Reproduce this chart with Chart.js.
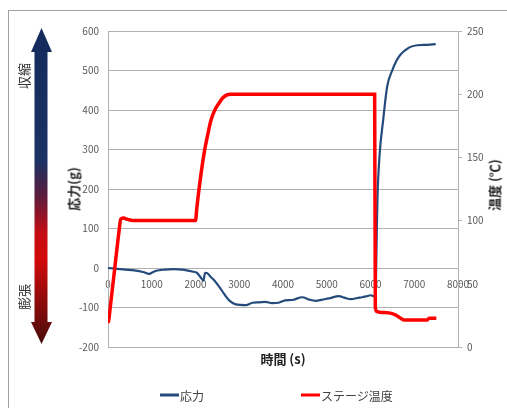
<!DOCTYPE html>
<html>
<head>
<meta charset="utf-8">
<script src="https://cdn.jsdelivr.net/npm/chart.js@4/dist/chart.umd.min.js"></script>
<style>
    html, body { margin: 0; padding: 0; background: #fff; }
    #wrap { position: relative; width: 507px; height: 408px; overflow: hidden; font-family: "Noto Sans CJK JP", "Noto Sans", sans-serif; }
    #frame { position: absolute; left: 8px; top: 10px; width: 600px; height: 500px; border: 1px solid #a0a0a0; box-sizing: border-box; }
    #chart { position: absolute; left: 0; top: 0; }
    #arrow { position: absolute; left: 0; top: 0; }
    .vtext { position: absolute; white-space: nowrap; transform: translate(-50%, -50%) rotate(-90deg); color: #333; line-height: 1; }
    .htext { position: absolute; white-space: nowrap; transform: translate(-50%, -50%); color: #222; line-height: 1; }
    .legend { position: absolute; top: 395px; display: flex; align-items: center; font-size: 12px; color: #404040; transform: translateY(-50%); }
    .legend .swatch { display: inline-block; width: 19px; height: 3px; margin-right: 1px; }
</style>
</head>
<body>
<div id="wrap">
    <div id="frame"></div>
    <svg id="arrow" width="507" height="408">
        <defs>
            <linearGradient id="arrowGrad" x1="0" y1="28" x2="0" y2="344" gradientUnits="userSpaceOnUse">
                <stop offset="0" stop-color="#142a5c"/>
                <stop offset="0.42" stop-color="#1a3264"/>
                <stop offset="0.53" stop-color="#5a1d3e"/>
                <stop offset="0.65" stop-color="#c40c12"/>
                <stop offset="0.73" stop-color="#d20a0a"/>
                <stop offset="1" stop-color="#4a0c0c"/>
            </linearGradient>
        </defs>
        <polygon fill="url(#arrowGrad)"
                 points="41.5,28 52,52 47.5,52 47.5,322 52,322 41.5,344 31,322 34.5,322 34.5,52 31,52"/>
    </svg>
    <canvas id="chart" width="507" height="408"></canvas>
    <div class="vtext" style="left:23px; top:76px; font-size:13px;">収縮</div>
    <div class="vtext" style="left:23px; top:297px; font-size:13px;">膨張</div>
    <div class="vtext" style="left:73px; top:189px; font-size:13px; font-weight:bold; color:#222;">応力(g)</div>
    <div class="vtext" style="left:494px; top:185px; font-size:13px; font-weight:bold; color:#222;">温度 (℃)</div>
    <div class="htext" style="left:283px; top:358px; font-size:13px; font-weight:bold;">時間 (s)</div>
    <div class="legend" style="left:160px;"><span class="swatch" style="background:#254a7c"></span>応力</div>
    <div class="legend" style="left:301px;"><span class="swatch" style="background:#ff0000"></span>ステージ温度</div>
</div>
<script>
// 応力 (g), left axis
const stressTime = [0, 200, 400, 600, 800, 940, 1000, 1100, 1300, 1500, 1700, 1930, 2030, 2120, 2180, 2220, 2270, 2350, 2400, 2540, 2650, 2770, 2920, 3150, 3300, 3450, 3600, 3750, 3900, 4050, 4210, 4440, 4600, 4750, 4900, 5050, 5280, 5400, 5550, 5700, 5810, 5900, 6000, 6118, 6130, 6145, 6160, 6210, 6290, 6380, 6500, 6650, 6880, 7070, 7300, 7490];
const stressValues = [0, -2, -4, -6, -10, -15, -12, -7, -4, -3, -4, -9, -12, -24, -32, -12, -13, -23, -28, -47, -65, -82, -92, -94, -88, -87, -86, -89, -88, -82, -81, -74, -80, -83, -80, -77, -71, -75, -79, -76, -74, -72, -69, -73, 0, 100, 180, 290, 375, 459, 501, 535, 558, 564, 565, 567];

// ステージ温度 (℃), right axis
const tempTime = [0, 10, 20, 60, 150, 250, 290, 350, 450, 600, 1000, 1500, 2000, 2030, 2070, 2130, 2200, 2280, 2350, 2450, 2540, 2620, 2720, 2800, 3500, 4500, 5500, 6095, 6110, 6150, 6200, 6420, 6575, 6700, 6770, 7000, 7298, 7337, 7505];
const tempValues = [24, 20, 22, 34, 61, 91, 101, 102, 101, 100, 100, 100, 100, 110, 122, 138, 154, 168, 179, 188, 193, 197, 199.5, 200, 200, 200, 200, 200, 31, 28, 27.5, 27, 25.3, 22.5, 21.4, 21.4, 21.4, 22.7, 22.7];

const timeTicks = { min: 0, max: 8000, step: 1000 };
const stressTicks = { min: -200, max: 600, step: 100 };
const tempTicks = { min: 0, max: 250, step: 50 };

const stressColor = "#254a7c";
const tempColor = "#ff0000";
const gridColor = "#b0b0b0";
const tickColor = "#595959";
const tickFont = { family: "'Noto Sans CJK JP', 'Noto Sans', sans-serif", size: 10 };

function toPoints(xs, ys) {
    return xs.map((x, i) => ({ x, y: ys[i] }));
}

// Excel-style plain numbers, no thousands separator
const plainLabel = (value) => String(value);

new Chart(document.getElementById("chart"), {
    type: "line",
    data: {
        datasets: [
            {
                label: "応力",
                data: toPoints(stressTime, stressValues),
                yAxisID: "y",
                borderColor: stressColor,
                borderWidth: 2.2,
                pointRadius: 0,
                cubicInterpolationMode: "monotone",
                order: 1,
            },
            {
                label: "ステージ温度",
                data: toPoints(tempTime, tempValues),
                yAxisID: "y2",
                borderColor: tempColor,
                borderWidth: 3.5,
                pointRadius: 0,
                cubicInterpolationMode: "monotone",
                order: 0,
            },
        ],
    },
    options: {
        responsive: false,
        animation: false,
        layout: { padding: { left: 0, right: 0, top: 31, bottom: 61 } },
        plugins: { legend: { display: false }, tooltip: { enabled: false } },
        scales: {
            x: {
                type: "linear",
                position: { y: 0 },
                min: timeTicks.min,
                max: timeTicks.max,
                grid: { display: false },
                border: { display: false },
                ticks: { stepSize: timeTicks.step, color: tickColor, font: tickFont, padding: 2, maxRotation: 0, callback: plainLabel },
            },
            y: {
                position: "left",
                min: stressTicks.min,
                max: stressTicks.max,
                afterFit: (scale) => { scale.width = 108; },
                grid: { color: gridColor, drawTicks: false },
                border: { display: true, color: gridColor },
                ticks: { stepSize: stressTicks.step, color: tickColor, font: tickFont, padding: 9, callback: plainLabel },
            },
            y2: {
                position: "right",
                min: tempTicks.min,
                max: tempTicks.max,
                afterFit: (scale) => { scale.width = 49; },
                grid: { drawOnChartArea: false, drawTicks: true, tickLength: 4, color: gridColor },
                border: { display: true, color: gridColor },
                ticks: { stepSize: tempTicks.step, color: tickColor, font: tickFont, padding: 5, callback: plainLabel },
            },
        },
    },
});
</script>
</body>
</html>
